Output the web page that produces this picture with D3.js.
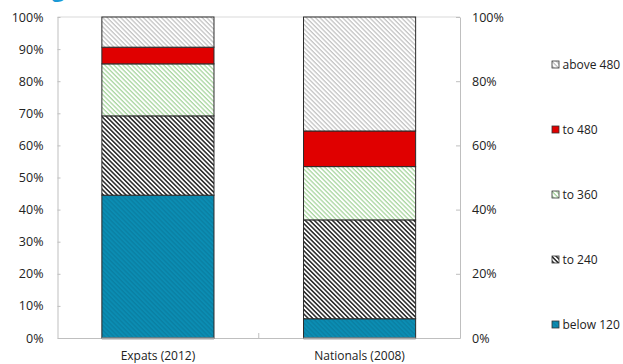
<!DOCTYPE html>
<html>
<head>
<meta charset="utf-8">
<script src="https://cdn.jsdelivr.net/npm/d3@7"></script>
<style>
  html, body { margin: 0; padding: 0; background: #fff; }
  svg { display: block; font-family: "Open Sans", "DejaVu Sans", sans-serif; }
</style>
</head>
<body>
<svg id="chart" width="623" height="364"></svg>
<script>
// Share of households by monthly spending band, stacked to 100%
const categories = ["Expats (2012)", "Nationals (2008)"];
const bands = ["below 120", "to 240", "to 360", "to 480", "above 480"];
const expats2012 = [44.5, 24.7, 16.2, 5.2, 9.4];
const nationals2008 = [6.0, 30.8, 16.6, 11.1, 35.5];
const leftTicks = [0, 10, 20, 30, 40, 50, 60, 70, 80, 90, 100];
const rightTicks = [0, 20, 40, 60, 80, 100];

const seriesByCategory = [expats2012, nationals2008];

const svg = d3.select("#chart");
const defs = svg.append("defs");

// Fill styles: blue with faint stripes, dark hatch, green hatch, red, light grey hatch
function hatch(id, bg, fg, period, width) {
  const p = defs.append("pattern")
    .attr("id", id)
    .attr("patternUnits", "userSpaceOnUse")
    .attr("width", period).attr("height", period)
    .attr("patternTransform", "rotate(45)");
  p.append("rect").attr("width", period).attr("height", period).attr("fill", bg);
  p.append("rect").attr("x", 0).attr("y", 0)
    .attr("width", period).attr("height", width).attr("fill", fg);
  return `url(#${id})`;
}
const fills = {
  "below 120": hatch("p-blue", "#0b8db3", "#0a80a3", 3.2, 1.4),
  "to 240": hatch("p-dark", "#ffffff", "#333333", 3.2, 1.6),
  "to 360": hatch("p-green", "#ffffff", "#a9d6a0", 3.2, 1.3),
  "to 480": "#e00000",
  "above 480": hatch("p-grey", "#ffffff", "#c4c4c4", 3.2, 1.3)
};

const margin = { left: 57.5, right: 460, top: 17, bottom: 338 };
const labelFont = 12.5;

const x = d3.scaleBand()
  .domain(categories)
  .range([margin.left, margin.right])
  .paddingInner(0.444)
  .paddingOuter(0.22);

const y = d3.scaleLinear().domain([0, 100]).range([margin.bottom, margin.top]);

// Stack the bands for each category
const rows = categories.map((c, i) => {
  const r = { category: c };
  bands.forEach((b, j) => { r[b] = seriesByCategory[i][j]; });
  return r;
});
const stacked = d3.stack().keys(bands)(rows);

// Frame: top line
svg.append("line")
  .attr("x1", margin.left).attr("x2", margin.right)
  .attr("y1", y(100)).attr("y2", y(100))
  .attr("stroke", "#d9d9d9").attr("stroke-width", 1);

// Left axis (ticks point inward, labels on the left)
const leftAxis = svg.append("g")
  .attr("transform", `translate(${margin.left},0)`)
  .call(d3.axisLeft(y).tickValues(leftTicks).tickSizeInner(-3).tickSizeOuter(0)
    .tickPadding(14).tickFormat(d => d + "%"));
leftAxis.select(".domain").attr("stroke", "#bfbfbf");
leftAxis.selectAll(".tick line").attr("stroke", "#bfbfbf");
leftAxis.selectAll("text").attr("font-size", labelFont).attr("fill", "#222")
  .attr("font-family", "'Open Sans', sans-serif");

// Right axis
const rightAxis = svg.append("g")
  .attr("transform", `translate(${margin.right},0)`)
  .call(d3.axisRight(y).tickValues(rightTicks).tickSizeInner(-4).tickSizeOuter(0)
    .tickPadding(12).tickFormat(d => d + "%"));
rightAxis.select(".domain").attr("stroke", "#bfbfbf");
rightAxis.selectAll(".tick line").attr("stroke", "#bfbfbf");
rightAxis.selectAll("text").attr("font-size", labelFont).attr("fill", "#222")
  .attr("font-family", "'Open Sans', sans-serif");

// Bottom axis with a divider tick between the categories
const bottomAxis = svg.append("g")
  .attr("transform", `translate(0,${margin.bottom})`)
  .call(d3.axisBottom(x).tickSize(0).tickPadding(13.5));
bottomAxis.select(".domain").attr("stroke", "#bfbfbf");
bottomAxis.selectAll("text").attr("font-size", 12).attr("fill", "#222")
  .attr("font-family", "'Open Sans', sans-serif");
const midX = (x(categories[0]) + x.bandwidth() + x(categories[1])) / 2;
svg.append("line")
  .attr("x1", midX).attr("x2", midX)
  .attr("y1", margin.bottom).attr("y2", margin.bottom - 5)
  .attr("stroke", "#bfbfbf");

// Bars
const layers = svg.append("g").selectAll("g")
  .data(stacked).join("g")
  .attr("fill", d => fills[d.key]);
layers.selectAll("rect")
  .data(d => d).join("rect")
  .attr("x", d => x(d.data.category))
  .attr("width", x.bandwidth())
  .attr("y", d => y(d[1]))
  .attr("height", d => y(d[0]) - y(d[1]))
  .attr("stroke", "#2b2b2b")
  .attr("stroke-width", 1);

// Grey base under each bar
svg.append("g").selectAll("line")
  .data(categories).join("line")
  .attr("x1", d => x(d)).attr("x2", d => x(d) + x.bandwidth())
  .attr("y1", margin.bottom + 0.5).attr("y2", margin.bottom + 0.5)
  .attr("stroke", "#a6a6a6").attr("stroke-width", 2);

// Legend, top entry is the top of the stack
const legendBands = bands.slice().reverse();
const legend = svg.append("g").selectAll("g")
  .data(legendBands).join("g")
  .attr("transform", (d, i) => `translate(552,${65 + i * 65})`);
legend.append("rect")
  .attr("x", 0).attr("y", -4).attr("width", 7).attr("height", 7)
  .attr("fill", d => fills[d]).attr("stroke", "#333").attr("stroke-width", 0.8);
legend.append("text")
  .attr("x", 10.5).attr("y", 0).attr("dy", "0.35em")
  .attr("font-size", 12).attr("fill", "#222")
  .text(d => d);

// Title, mostly above the visible area
svg.append("text")
  .attr("x", 52).attr("y", -3)
  .attr("font-size", 22).attr("font-weight", "bold").attr("fill", "#1a9ad6")
  .text("g,");
</script>
</body>
</html>
